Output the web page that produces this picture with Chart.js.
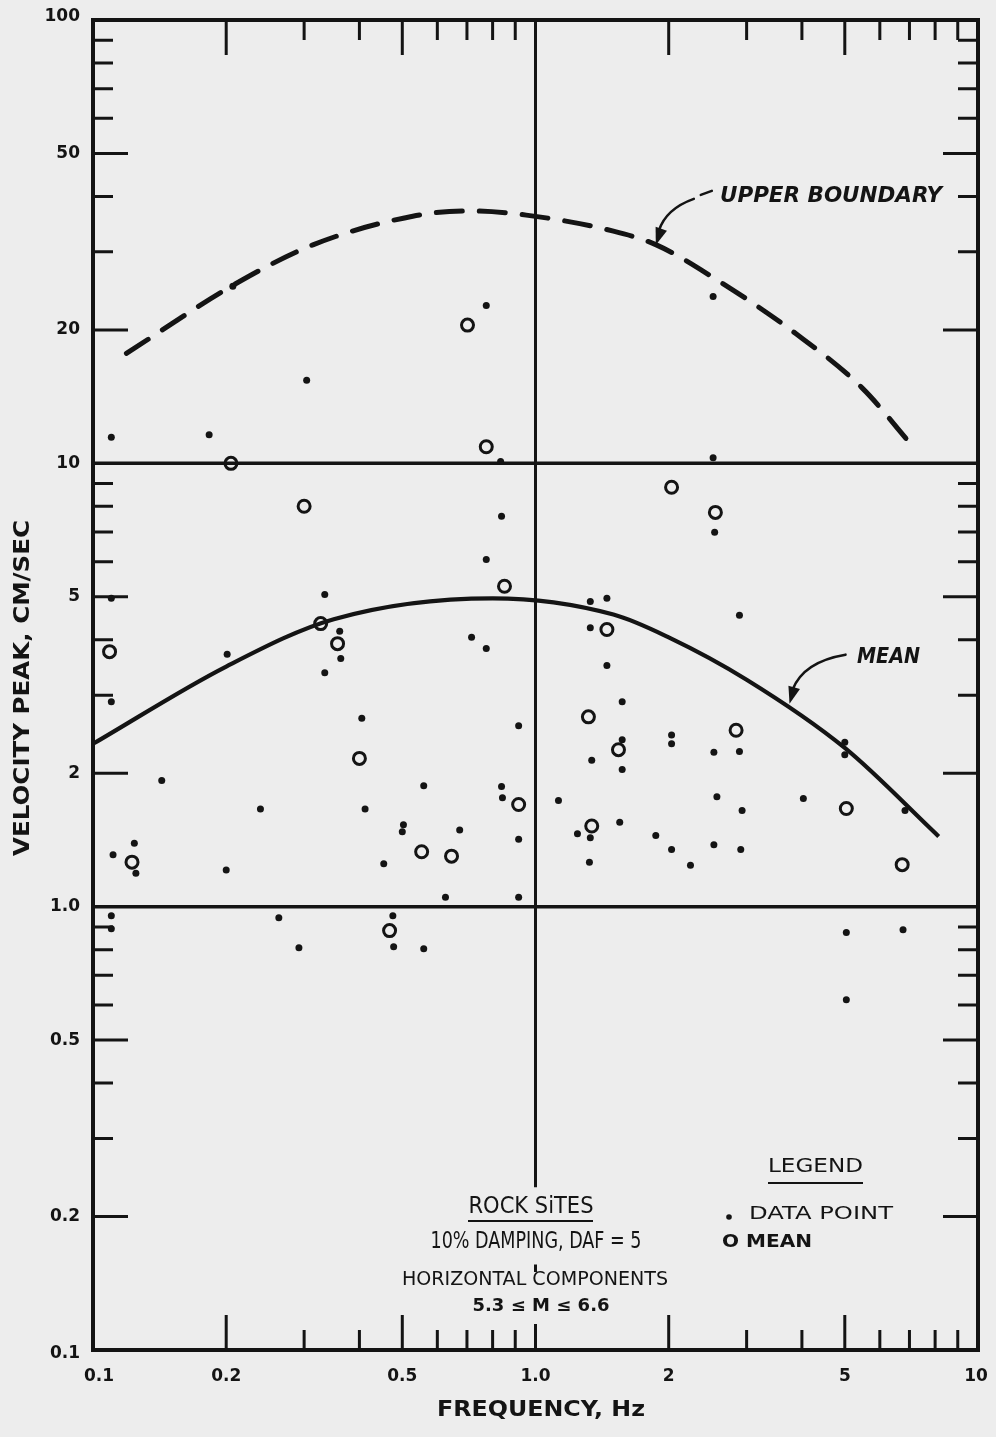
<!DOCTYPE html>
<html>
<head>
<meta charset="utf-8">
<script src="https://cdn.jsdelivr.net/npm/chart.js@4.4.1/dist/chart.umd.min.js"></script>
<style>
  html, body { margin: 0; padding: 0; background: #ededed; }
  canvas { display: block; }
</style>
</head>
<body>
<canvas id="chart" width="996" height="1437"></canvas>
<script>
// data points: frequency (Hz) and velocity peak (cm/sec)
const pointFreq = [0.207, 0.774, 0.304, 0.110, 0.183, 0.834, 2.52, 2.52, 0.838, 0.774,
  0.334, 0.110, 0.361, 0.717, 0.774, 0.201, 0.363, 0.334, 0.110, 0.916,
  0.405, 0.143, 0.559, 0.838, 0.842, 0.239, 0.412, 0.503, 0.500, 0.674,
  0.916, 0.124, 0.111, 0.125, 0.454, 0.200, 0.626, 0.916, 0.110, 0.110,
  0.263, 0.476, 0.292, 0.478, 0.559, 2.54, 1.33, 1.45, 1.33, 2.89,
  1.45, 1.57, 2.03, 2.03, 1.57, 2.53, 2.89, 1.34, 1.57, 5.0,
  5.0, 1.127, 2.57, 4.03, 2.93, 6.84, 1.244, 1.33, 1.55, 1.87,
  2.03, 2.53, 2.91, 1.324, 2.24, 5.04, 6.77, 5.04];
const pointVel = [25.1, 22.7, 15.4, 11.45, 11.6, 10.1, 23.8, 10.3, 7.6, 6.07,
  5.06, 4.96, 4.18, 4.05, 3.82, 3.71, 3.63, 3.37, 2.90, 2.56,
  2.66, 1.925, 1.875, 1.866, 1.76, 1.66, 1.66, 1.53, 1.476, 1.49,
  1.42, 1.39, 1.31, 1.19, 1.25, 1.21, 1.05, 1.05, 0.954, 0.892,
  0.944, 0.954, 0.808, 0.812, 0.804, 6.99, 4.88, 4.96, 4.26, 4.54,
  3.50, 2.90, 2.44, 2.33, 2.38, 2.23, 2.24, 2.14, 2.04, 2.35,
  2.20, 1.735, 1.77, 1.753, 1.647, 1.647, 1.46, 1.43, 1.55, 1.447,
  1.345, 1.38, 1.345, 1.26, 1.24, 0.874, 0.887, 0.617];

// means (open circles)
const meanFreq = [0.702, 0.774, 0.205, 0.300, 0.851, 0.327, 0.357, 0.109, 0.400, 0.916,
  0.1225, 0.553, 0.646, 0.468, 2.03, 2.55, 1.45, 1.317, 2.84, 1.54, 5.04, 1.34, 6.74];
const meanVel = [20.5, 10.9, 10.0, 8.0, 5.28, 4.35, 3.92, 3.76, 2.16, 1.70,
  1.26, 1.33, 1.30, 0.883, 8.83, 7.75, 4.22, 2.68, 2.50, 2.26, 1.665, 1.52, 1.244];

// mean curve (solid)
const meanCurveFreq = [0.1, 0.2, 0.35, 0.8, 1.5, 2.0, 3.0, 5.0, 8.15];
const meanCurveVel  = [2.33, 3.48, 4.45, 4.96, 4.56, 4.05, 3.25, 2.28, 1.44];

// upper boundary (dashed)
const upperFreq = [0.119, 0.207, 0.314, 0.528, 0.7, 0.953, 1.5, 1.875, 2.56, 3.88, 5.47, 7.24];
const upperVel  = [17.7, 25.2, 31.1, 36.1, 37.1, 36.3, 33.4, 31.1, 26.0, 19.6, 14.8, 10.7];

// tick labels
const xTickValues = [0.1, 0.2, 0.5, 1, 2, 5, 10];
const xTickText = ['0.1', '0.2', '0.5', '1.0', '2', '5', '10'];
const yTickValues = [0.1, 0.2, 0.5, 1, 2, 5, 10, 20, 50, 100];
const yTickText = ['0.1', '0.2', '0.5', '1.0', '2', '5', '10', '20', '50', '100'];

const INK = '#141414';
const BG = '#ededed';
const numFont = '"DejaVu Sans", sans-serif';
const narrowFont = '"DejaVu Sans Condensed", "Liberation Sans Narrow", "DejaVu Sans", sans-serif';

function toXY(xs, ys) {
  return xs.map((x, i) => ({ x: x, y: ys[i] }));
}

// draw text stretched/squeezed to a given width
function fitText(ctx, text, x, y, width, font, align) {
  ctx.save();
  ctx.font = font;
  ctx.textBaseline = 'middle';
  ctx.textAlign = align || 'center';
  const w = ctx.measureText(text).width;
  ctx.translate(x, y);
  ctx.scale(width / w, 1);
  ctx.fillText(text, 0, 0);
  ctx.restore();
}

function arrowHead(ctx, tx, ty, angle, len, half) {
  ctx.beginPath();
  ctx.moveTo(tx, ty);
  ctx.lineTo(tx - len * Math.cos(angle) + half * Math.sin(angle), ty - len * Math.sin(angle) - half * Math.cos(angle));
  ctx.lineTo(tx - len * Math.cos(angle) - half * Math.sin(angle), ty - len * Math.sin(angle) + half * Math.cos(angle));
  ctx.closePath();
  ctx.fill();
}

const framePlugin = {
  id: 'frame',
  beforeDraw(chart) {
    const ctx = chart.ctx;
    ctx.save();
    ctx.fillStyle = BG;
    ctx.fillRect(0, 0, chart.width, chart.height);
    ctx.restore();
  },
  beforeDatasetsDraw(chart) {
    const { ctx, chartArea: a, scales } = chart;
    const xs = scales.x, ys = scales.y;
    ctx.save();
    ctx.strokeStyle = INK;
    ctx.lineCap = 'butt';

    // ticks on all four sides
    ctx.lineWidth = 3;
    for (const d of [0.1, 1, 10]) {
      for (let k = 2; k <= 9; k++) {
        const v = k * d;
        const len = (k === 2 || k === 5) ? 35 : 20;
        if (v > 0.1 && v < 10) {
          const px = xs.getPixelForValue(v);
          ctx.beginPath();
          ctx.moveTo(px, a.top); ctx.lineTo(px, a.top + len);
          ctx.moveTo(px, a.bottom); ctx.lineTo(px, a.bottom - len);
          ctx.stroke();
        }
        if (v > 0.1 && v < 100) {
          const py = ys.getPixelForValue(v);
          ctx.beginPath();
          ctx.moveTo(a.left, py); ctx.lineTo(a.left + len, py);
          ctx.moveTo(a.right, py); ctx.lineTo(a.right - len, py);
          ctx.stroke();
        }
      }
    }

    // reference lines at 10 and 1.0 cm/sec and at 1.0 Hz
    ctx.lineWidth = 3.5;
    for (const v of [10, 1]) {
      const py = ys.getPixelForValue(v);
      ctx.beginPath(); ctx.moveTo(a.left, py); ctx.lineTo(a.right, py); ctx.stroke();
    }
    const x1 = xs.getPixelForValue(1);
    ctx.lineWidth = 3;
    ctx.beginPath();
    ctx.moveTo(x1, a.top); ctx.lineTo(x1, ys.getPixelForValue(0.233));
    ctx.moveTo(x1, ys.getPixelForValue(0.156)); ctx.lineTo(x1, ys.getPixelForValue(0.150));
    ctx.moveTo(x1, a.bottom); ctx.lineTo(x1, a.bottom - 26);
    ctx.stroke();

    // frame
    ctx.lineWidth = 4;
    ctx.strokeRect(a.left, a.top, a.right - a.left, a.bottom - a.top);
    ctx.restore();
  },
  afterDatasetsDraw(chart) {
    const { ctx, chartArea: a, scales } = chart;
    const xs = scales.x, ys = scales.y;
    ctx.save();
    ctx.fillStyle = INK;
    ctx.strokeStyle = INK;

    // tick labels
    ctx.font = 'bold 17px ' + numFont;
    ctx.textBaseline = 'middle';
    ctx.textAlign = 'right';
    yTickValues.forEach((v, i) => {
      let py = ys.getPixelForValue(v);
      if (v === 100) py -= 3;
      if (v === 0.1) py += 4;
      ctx.fillText(yTickText[i], 80, py);
    });
    ctx.textAlign = 'center';
    xTickValues.forEach((v, i) => {
      let px = xs.getPixelForValue(v);
      if (v === 0.1) px += 6;
      if (v === 10) px -= 2;
      ctx.fillText(xTickText[i], px, a.bottom + 27);
    });

    // axis titles
    ctx.save();
    ctx.translate(23, 688);
    ctx.rotate(-Math.PI / 2);
    fitText(ctx, 'VELOCITY PEAK, CM/SEC', 0, 0, 336, 'bold 22px ' + numFont, 'center');
    ctx.restore();
    fitText(ctx, 'FREQUENCY, Hz', 541, 1410, 208, 'bold 22px ' + numFont, 'center');

    // curve labels
    fitText(ctx, 'UPPER BOUNDARY', 720, 196, 222, 'italic bold 22px ' + numFont, 'left');
    fitText(ctx, 'MEAN', 857, 657, 63, 'italic bold 22px ' + numFont, 'left');

    // arrows
    ctx.lineWidth = 2.6;
    ctx.lineCap = 'round';
    const t1x = xs.getPixelForValue(1.87), t1y = ys.getPixelForValue(31.1);
    ctx.beginPath();
    ctx.moveTo(t1x + 56, t1y - 54);
    ctx.lineTo(t1x + 45, t1y - 50);
    ctx.moveTo(t1x + 38, t1y - 46);
    ctx.quadraticCurveTo(t1x + 10, t1y - 36, t1x + 3, t1y - 14);
    ctx.stroke();
    arrowHead(ctx, t1x, t1y, 1.9, 17, 6);

    const t2x = xs.getPixelForValue(3.75), t2y = ys.getPixelForValue(2.87);
    ctx.beginPath();
    ctx.moveTo(t2x + 56, t2y - 49);
    ctx.quadraticCurveTo(t2x + 14, t2y - 42, t2x + 3, t2y - 14);
    ctx.stroke();
    arrowHead(ctx, t2x, t2y, 1.85, 17, 6);

    // centre block text
    fitText(ctx, 'ROCK SiTES', 531, 1207, 125, '23px ' + narrowFont, 'center');
    ctx.lineWidth = 2;
    ctx.lineCap = 'butt';
    ctx.beginPath(); ctx.moveTo(468, 1221); ctx.lineTo(593, 1221); ctx.stroke();
    fitText(ctx, '10% DAMPING, DAF = 5', 536, 1242, 211, '23px ' + narrowFont, 'center');
    fitText(ctx, 'HORIZONTAL COMPONENTS', 535, 1280, 266, '19px ' + narrowFont, 'center');
    fitText(ctx, '5.3 \u2264 M \u2264 6.6', 541, 1307, 137, 'bold 17px ' + numFont, 'center');

    // legend
    fitText(ctx, 'LEGEND', 768, 1167, 95, '19px ' + numFont, 'left');
    ctx.beginPath(); ctx.moveTo(768, 1183); ctx.lineTo(863, 1183); ctx.stroke();
    ctx.beginPath(); ctx.arc(729, 1217, 2.8, 0, Math.PI * 2); ctx.fill();
    fitText(ctx, 'DATA POINT', 749, 1215, 144, '17px ' + numFont, 'left');
    fitText(ctx, 'O MEAN', 722, 1243, 90, 'bold 17px ' + numFont, 'left');
    ctx.restore();
  }
};

new Chart(document.getElementById('chart'), {
  type: 'scatter',
  data: {
    datasets: [
      {
        label: 'Upper boundary',
        type: 'line',
        data: toXY(upperFreq, upperVel),
        borderColor: INK,
        borderWidth: 5,
        borderDash: [26, 17],
        borderCapStyle: 'round',
        cubicInterpolationMode: 'monotone',
        pointRadius: 0,
        fill: false
      },
      {
        label: 'Mean curve',
        type: 'line',
        data: toXY(meanCurveFreq, meanCurveVel),
        borderColor: INK,
        borderWidth: 4.2,
        cubicInterpolationMode: 'monotone',
        pointRadius: 0,
        fill: false
      },
      {
        label: 'Data point',
        data: toXY(pointFreq, pointVel),
        pointRadius: 3.5,
        pointBackgroundColor: INK,
        pointBorderWidth: 0
      },
      {
        label: 'Mean',
        data: toXY(meanFreq, meanVel),
        pointRadius: 6,
        pointBackgroundColor: 'rgba(0,0,0,0)',
        pointBorderColor: INK,
        pointBorderWidth: 3
      }
    ]
  },
  options: {
    responsive: false,
    animation: false,
    events: [],
    layout: { padding: { left: 93, right: 18, top: 20, bottom: 87 } },
    plugins: { legend: { display: false }, tooltip: { enabled: false } },
    scales: {
      x: { type: 'logarithmic', min: 0.1, max: 10, display: false },
      y: { type: 'logarithmic', min: 0.1, max: 100, display: false }
    }
  },
  plugins: [framePlugin]
});
</script>
</body>
</html>
